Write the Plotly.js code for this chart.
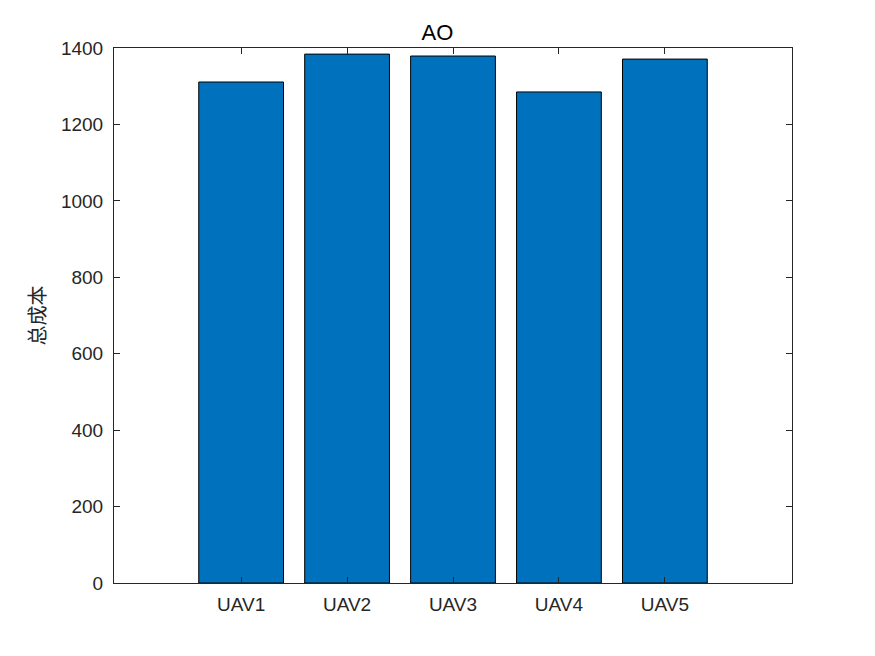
<!DOCTYPE html>
<html>
<head>
<meta charset="utf-8">
<script src="https://cdn.plot.ly/plotly-3.0.1.min.js"></script>
<style>html,body{margin:0;padding:0;background:#fff;}#chart{width:875px;height:656px;}</style>
</head>
<body>
<div id="chart"></div>
<script>
const categories = ["UAV1", "UAV2", "UAV3", "UAV4", "UAV5"];
const positions = [1, 2, 3, 4, 5];
const totalCost = [1311, 1384, 1379, 1285, 1371];
const yTicks = [0, 200, 400, 600, 800, 1000, 1200, 1400];

const trace = {
  type: "bar",
  x: positions,
  y: totalCost,
  width: 0.8,
  marker: {color: "#0072BD", line: {color: "#000000", width: 1}},
  hoverinfo: "x+y"
};

const font = {family: "Liberation Sans, Arial, sans-serif", size: 19, color: "#262626"};

const layout = {
  width: 875, height: 656,
  margin: {l: 114, r: 83, t: 48, b: 73},
  paper_bgcolor: "#ffffff", plot_bgcolor: "#ffffff",
  showlegend: false,
  font: font,
  title: {text: "AO", x: 0.5, xanchor: "center", y: 1 - 32/656, yanchor: "middle",
          font: {family: "Liberation Sans, Arial, sans-serif", size: 22, color: "#000000"}},
  xaxis: {
    range: [-0.2, 6.2], tickvals: positions, ticktext: categories,
    ticks: "inside", ticklen: 6, tickcolor: "#262626", tickwidth: 1,
    ticklabelstandoff: 4,
    showline: true, linecolor: "#262626", linewidth: 1, mirror: "ticks",
    showgrid: false, zeroline: false, fixedrange: true,
    tickfont: font
  },
  yaxis: {
    range: [0, 1400], tickvals: yTicks,
    ticks: "inside", ticklen: 6, tickcolor: "#262626", tickwidth: 1,
    ticklabelstandoff: 6,
    showline: true, linecolor: "#262626", linewidth: 1, mirror: "ticks",
    showgrid: false, zeroline: false, fixedrange: true,
    tickfont: font,
    title: {text: "总成本", standoff: 9, font: {family: "Noto Sans CJK SC, sans-serif", size: 20, color: "#262626"}}
  },
  bargap: 0.2
};

Plotly.newPlot("chart", [trace], layout, {displayModeBar: false, staticPlot: true});
</script>
</body>
</html>
